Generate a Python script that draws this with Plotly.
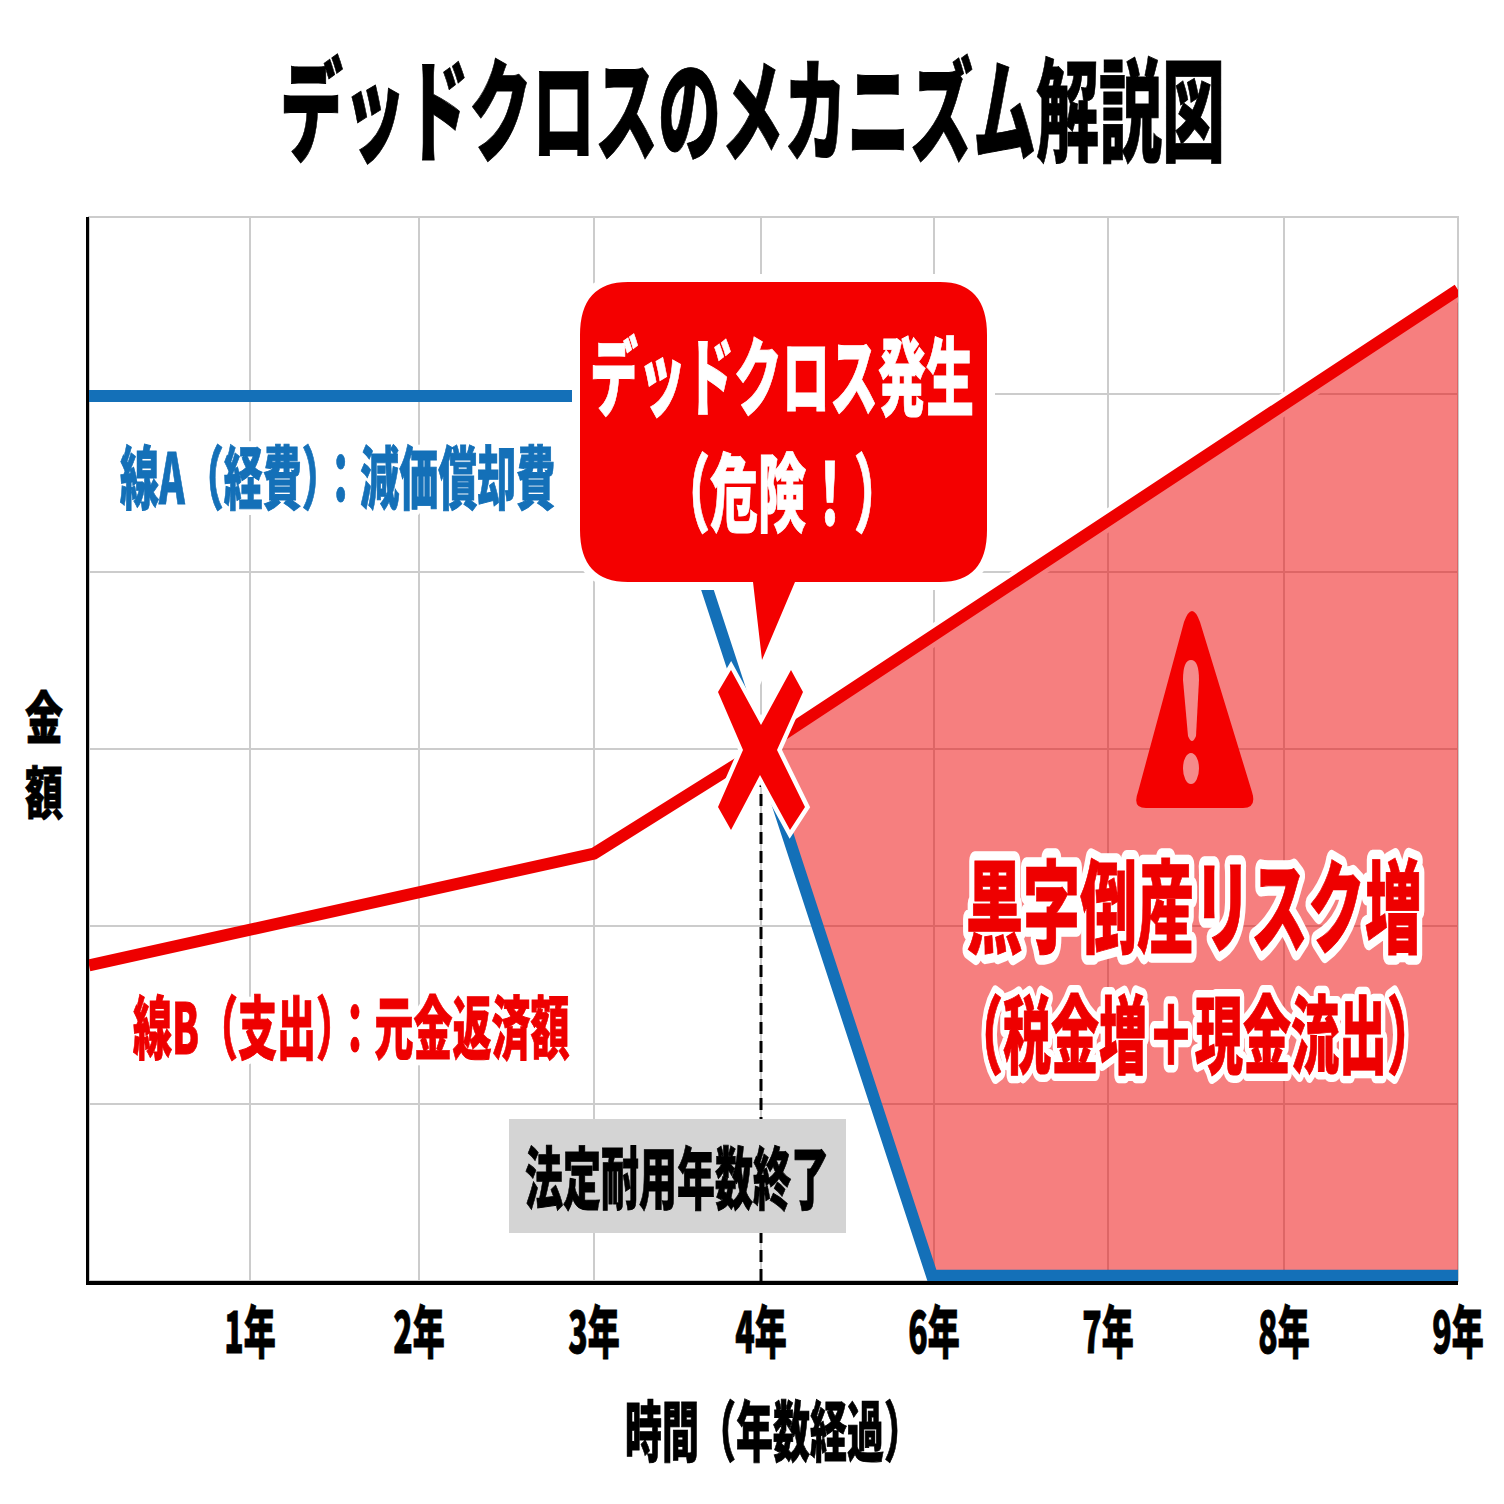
import json
import plotly.graph_objects as go

# x is kept in chart units measured from the y axis, the year ticks are not evenly spaced
tick_pos = [161, 330, 505, 672, 845, 1019, 1195, 1369]
tick_labels = ["1年", "2年", "3年", "4年", "6年", "7年", "8年", "9年"]
y_ticks = [0, 1, 2, 3, 4, 5, 6]

line_a_x = [0, 555, 843, 1369]
line_a_y = [4.99, 4.99, 0.03, 0.03]
line_b_x = [0, 505, 672, 1369]
line_b_y = [1.78, 2.41, 3.0, 5.59]
limit_x = [672, 672]
limit_y = [0, 3.0]

BLUE = "#1470B8"
RED = "#EE0000"
CALLOUT_RED = "#F40000"
PINK = "#F58A8A"
FONT = "Noto Sans CJK JP"
W = 1504
LEFT, RIGHT, TOP, BOTTOM = 89, 1458, 217, 1281

# white outline widths for the labels that have one
halo_widths = {
    "線A（経費）：減価償却費": 7,
    "線B（支出）：元金返済額": 7,
    "黒字倒産リスク増": 11,
    "（税金増＋現金流出）": 9,
}


# picture pixels to paper coordinates
def px(x):
    return (x - LEFT) / (RIGHT - LEFT)


def py(y):
    return (BOTTOM - y) / (BOTTOM - TOP)


def p(x, y):
    return f"{px(x)},{py(y)}"


def polygon(points):
    return "M " + " L ".join(p(x, y) for x, y in points) + " Z"


def label(text, x, y, size, color="black"):
    return dict(text=text, xref="paper", yref="paper", x=px(x), y=py(y), xanchor="center", yanchor="middle",
                showarrow=False, font=dict(family=FONT, size=size, color=color, weight=900))


def shape_path(path, fill, outline=None, width=0):
    return dict(type="path", path=path, xref="paper", yref="paper", fillcolor=fill,
                line=dict(color=outline or fill, width=width), layer="above")


fig = go.Figure()

# white edge under the red line, only the upper side stays visible once the fill is on top
fig.add_trace(go.Scatter(x=line_b_x[2:], y=line_b_y[2:], mode="lines", line=dict(color="white", width=21)))
fig.add_trace(go.Scatter(x=line_b_x[2:] + line_a_x[:1:-1], y=line_b_y[2:] + line_a_y[:1:-1], mode="lines",
                         fill="toself", fillcolor="rgba(238,0,0,0.5)", line=dict(width=0)))
fig.add_trace(go.Scatter(x=line_a_x, y=line_a_y, mode="lines", line=dict(color=BLUE, width=12)))
fig.add_trace(go.Scatter(x=line_b_x, y=line_b_y, mode="lines", line=dict(color=RED, width=12)))
fig.add_trace(go.Scatter(x=limit_x, y=limit_y, mode="lines", line=dict(color="black", width=3, dash="12px,7px")))

callout = "M " + p(628, 282) + " L " + p(940, 282) + " Q " + p(987, 282) + " " + p(987, 335) \
    + " L " + p(987, 530) + " Q " + p(987, 582) + " " + p(940, 582) + " L " + p(795, 582) \
    + " L " + p(762, 660) + " L " + p(753, 582) + " L " + p(628, 582) + " Q " + p(580, 582) + " " + p(580, 530) \
    + " L " + p(580, 335) + " Q " + p(580, 282) + " " + p(628, 282) + " Z"
triangle = "M " + p(1184, 622) + " Q " + p(1192, 600) + " " + p(1200, 622) + " L " + p(1252, 792) \
    + " Q " + p(1257, 808) + " " + p(1243, 808) + " L " + p(1146, 808) + " Q " + p(1132, 808) + " " + p(1138, 792) + " Z"
bang = "M " + p(1183, 680) + " Q " + p(1183, 660) + " " + p(1191, 660) + " Q " + p(1199, 660) + " " + p(1199, 680) \
    + " L " + p(1196, 736) + " Q " + p(1192, 746) + " " + p(1188, 736) + " Z"
cross = polygon([(718, 692), (731, 670), (761, 725), (791, 670), (803, 692), (777, 750), (805, 807), (790, 830),
                 (760, 775), (731, 830), (718, 807), (743, 750)])

shapes = [
    # outer border of the plot area, same grey as the grid
    dict(type="rect", xref="paper", yref="paper", x0=0, x1=1, y0=0, y1=1, line=dict(color="#CCCCCC", width=2), layer="below"),
    shape_path(callout, "white", "white", 16),
    shape_path(callout, CALLOUT_RED),
    dict(type="rect", xref="paper", yref="paper", x0=px(509), x1=px(846), y0=py(1233), y1=py(1119), fillcolor="#D4D4D4", line=dict(width=0), layer="above"),
    shape_path(triangle, CALLOUT_RED),
    shape_path(bang, PINK),
    dict(type="circle", xref="paper", yref="paper", x0=px(1183), x1=px(1199), y0=py(784), y1=py(753), fillcolor=PINK, line=dict(width=0), layer="above"),
    shape_path(cross, "white", "white", 9),
    shape_path(cross, CALLOUT_RED),
]

annotations = [
    label("デッドクロスのメカニズム解説図", 752, 104, 63),
    label("線A（経費）：減価償却費", 337, 474, 39, BLUE),
    label("線B（支出）：元金返済額", 351, 1024, 39, RED),
    label("デッドクロス発生", 782, 372, 48, "white"),
    label("（危険！）", 782, 488, 48, "white"),
    label("黒字倒産リスク増", 1194, 901, 57, RED),
    label("（税金増＋現金流出）", 1195, 1030, 48, RED),
    label("法定耐用年数終了", 677, 1174, 38),
    label("時間（年数経過）", 773, 1428, 37),
    label("金", 44, 714, 38),
    label("額", 44, 790, 38),
]

fig.update_layout(
    width=W,
    height=W,
    margin=dict(l=LEFT, r=W - RIGHT, t=TOP, b=W - BOTTOM),
    paper_bgcolor="white",
    plot_bgcolor="white",
    showlegend=False,
    shapes=shapes,
    annotations=annotations,
    xaxis=dict(
        range=[0, 1369],
        tickmode="array",
        tickvals=tick_pos,
        ticktext=tick_labels,
        tickfont=dict(family=FONT, size=32, color="black", weight=900),
        ticklabelstandoff=19,
        showgrid=True,
        gridcolor="#CCCCCC",
        gridwidth=2,
        zeroline=False,
        showline=True,
        linecolor="black",
        linewidth=4,
        layer="below traces",
    ),
    yaxis=dict(
        range=[0, 6],
        tickmode="array",
        tickvals=y_ticks,
        showticklabels=False,
        showgrid=True,
        gridcolor="#CCCCCC",
        gridwidth=2,
        zeroline=False,
        showline=True,
        linecolor="black",
        linewidth=3,
        layer="below traces",
    ),
)

# the lettering in the picture is tall and narrow and very heavy, plotly has no setting for that
post = """
document.body.style.margin = '0';
var haloes = %s;
document.querySelectorAll('.annotation-text, .xtick text').forEach(function (t) {
    var b = t.getBBox();
    var cx = b.x + b.width / 2, cy = b.y + b.height / 2;
    var k = t.textContent.length === 1 ? 1.5 : 1.78;
    var old = t.getAttribute('transform') || '';
    t.setAttribute('transform', old + ' translate(' + cx + ',' + cy + ') scale(1,' + k + ') translate(' + (-cx) + ',' + (-cy) + ')');
    t.style.stroke = t.style.fill;
    t.style.strokeWidth = '0.5px';
    var h = haloes[t.textContent];
    if (h) {
        var back = t.cloneNode(true);
        back.style.stroke = 'white';
        back.style.fill = 'white';
        back.style.strokeWidth = h + 'px';
        back.style.strokeLinejoin = 'round';
        t.parentNode.insertBefore(back, t);
    }
});
""" % json.dumps(halo_widths, ensure_ascii=False)

fig.write_html("out.html", post_script=post, config=dict(displayModeBar=False))
